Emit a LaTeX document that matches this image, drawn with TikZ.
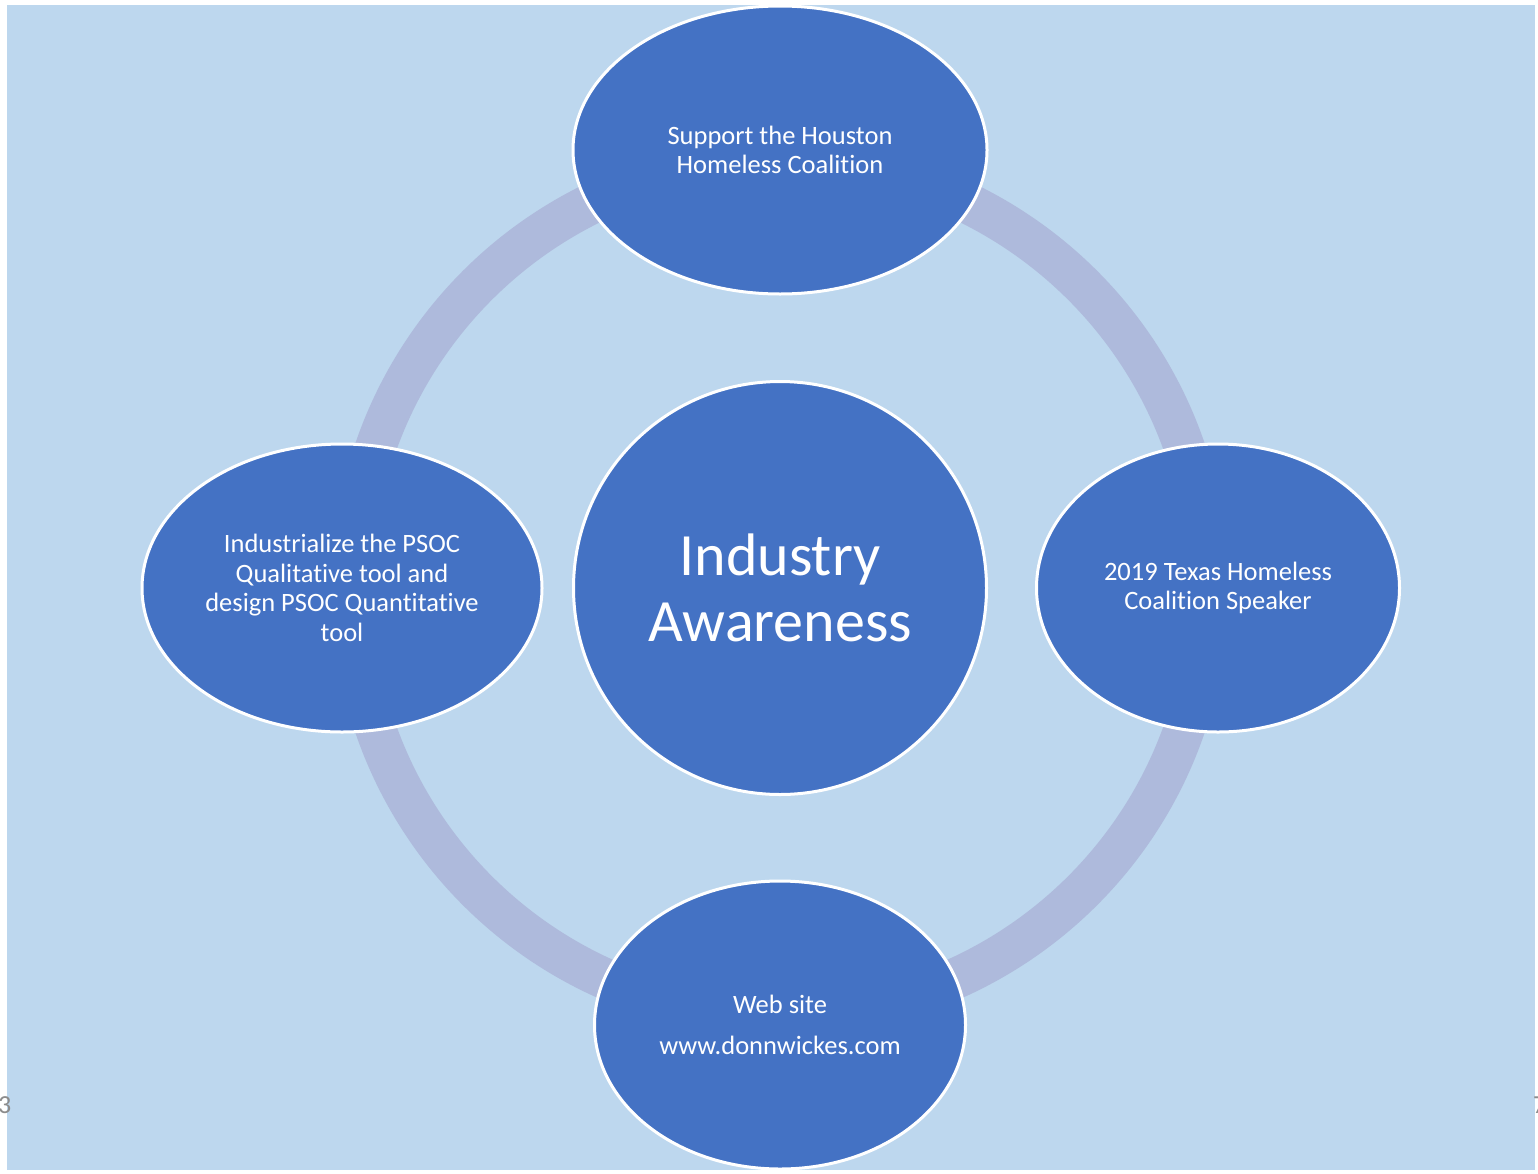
\documentclass[tikz,border=0pt]{standalone}
\usepackage{fontspec}
\setmainfont{Carlito}[Ligatures={NoCommon}]
\usetikzlibrary{shapes.geometric}
\definecolor{bgblue}{HTML}{BDD7EE}
\definecolor{ringblue}{HTML}{AEBADC}
\definecolor{nodeblue}{HTML}{4472C4}
\definecolor{pgnum}{HTML}{8C8C8C}
\begin{document}
\begin{tikzpicture}[x=1pt,y=-1pt,
  bubble/.style={ellipse,draw=white,line width=3pt,fill=nodeblue,text=white,
    align=center,inner sep=0pt,font=\fontsize{26.5}{29.6}\selectfont},
  pnum/.style={text=pgnum,font=\fontsize{26}{30}\selectfont,inner sep=0pt}]
\useasboundingbox (0,0) rectangle (1538,1173);
\fill[white] (0,0) rectangle (1538,1173);
\fill[bgblue] (7,5) rectangle (1535,1170);
% ring
\draw[ringblue,line width=41pt] (780,588) circle[radius=428];
% nodes
\node[bubble,minimum width=414,minimum height=288] (top) at (780,150)
  {Support the Houston\\Homeless Coalition};
\node[bubble,minimum width=400,minimum height=288] (left) at (342,588)
  {Industrialize the PSOC\\Qualitative tool and\\design PSOC Quantitative\\tool};
\node[bubble,minimum width=363,minimum height=288] (right) at (1218,588)
  {2019 Texas Homeless\\Coalition Speaker};
\node[bubble,minimum width=371,minimum height=288] (bottom) at (780,1025)
  {Web site\\[11pt]www.donnwickes.com};
\node[bubble,circle,minimum size=413,font=\fontsize{60}{66}\selectfont] (center) at (780,588)
  {Industry\\Awareness};
\node[pnum,anchor=west] (p3) at (-2,1105) {3};
\node[pnum,anchor=west] (p7) at (1533,1105) {7};
\end{tikzpicture}
\end{document}
